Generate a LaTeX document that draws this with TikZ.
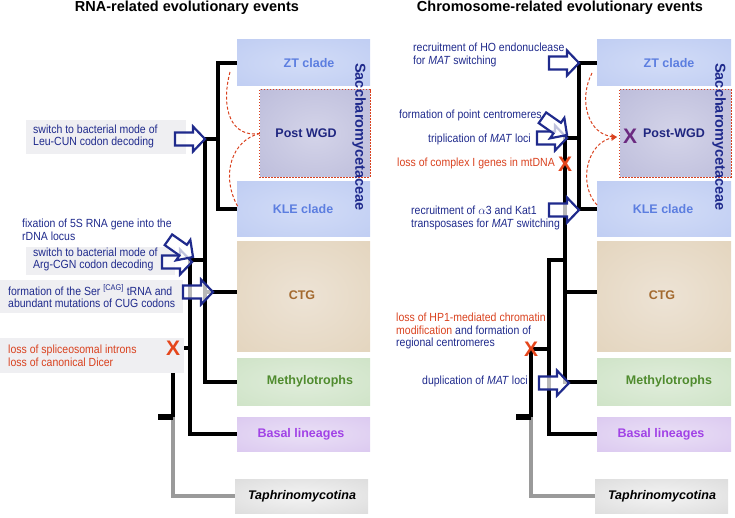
\documentclass[tikz,border=0pt]{standalone}
\usepackage{fontspec}
\setmainfont{Liberation Sans}
\newfontfamily\evfont[FakeStretch=0.89]{Liberation Sans}
\usetikzlibrary{arrows.meta}
\definecolor{navy}{HTML}{1F2A8C}
\definecolor{evred}{HTML}{D9411E}
\definecolor{xred}{HTML}{E5461C}
\definecolor{xpurple}{HTML}{6B2A80}
\definecolor{ztc}{HTML}{5C7EE0}
\definecolor{pwc}{HTML}{1F2680}
\definecolor{ctgc}{HTML}{A3692E}
\definecolor{metc}{HTML}{4F8B2E}
\definecolor{basc}{HTML}{A142E6}
\definecolor{ztin}{HTML}{D2DCF7}
\definecolor{ztout}{HTML}{AEBFEE}
\definecolor{pwin}{HTML}{D4D4E9}
\definecolor{pwout}{HTML}{A6A6CD}
\definecolor{ctgin}{HTML}{EDE3D5}
\definecolor{ctgout}{HTML}{DAC7A8}
\definecolor{metin}{HTML}{E0EDDB}
\definecolor{metout}{HTML}{BEDAB4}
\definecolor{basin}{HTML}{EAE0F6}
\definecolor{basout}{HTML}{CDB3EA}
\definecolor{tapin}{HTML}{F4F4F4}
\definecolor{tapout}{HTML}{C6C6C6}
\definecolor{evtgrey}{HTML}{EFEFF2}
\definecolor{greyline}{HTML}{9A9A9A}
\pgfdeclareradialshading{ztsh}{\pgfpoint{0bp}{0bp}}{color(0bp)=(ztin); color(72bp)=(ztout)}
\pgfdeclareradialshading{pwsh}{\pgfpoint{0bp}{0bp}}{color(0bp)=(pwin); color(72bp)=(pwout)}
\pgfdeclareradialshading{ctgsh}{\pgfpoint{0bp}{0bp}}{color(0bp)=(ctgin); color(72bp)=(ctgout)}
\pgfdeclareradialshading{metsh}{\pgfpoint{0bp}{0bp}}{color(0bp)=(metin); color(72bp)=(metout)}
\pgfdeclareradialshading{bassh}{\pgfpoint{0bp}{0bp}}{color(0bp)=(basin); color(72bp)=(basout)}
\pgfdeclareradialshading{tapsh}{\pgfpoint{0bp}{0bp}}{color(0bp)=(tapin); color(72bp)=(tapout)}
\begin{document}
\begin{tikzpicture}[x=1pt,y=-1pt,
  box/.style={inner sep=0pt, minimum width=133pt, shade},
  lbl/.style={font=\fontsize{12.5}{14}\selectfont\bfseries, inner sep=0pt},
  title/.style={font=\fontsize{14.5}{16}\selectfont\bfseries, inner sep=0pt, anchor=base},
  sacch/.style={font=\fontsize{14.5}{16}\selectfont\bfseries, text=navy, rotate=-90, inner sep=0pt},
  evt/.style={font=\evfont\fontsize{11.8}{12.6}\selectfont, text=navy, align=left, inner sep=0pt, anchor=west},
  evtbg/.style={fill=evtgrey, inner sep=0pt, anchor=west},
  tree/.style={line width=4pt, black},
  stubline/.style={line width=6pt, black},
  greytree/.style={line width=4pt, greyline},
  xm/.style={font=\fontsize{21}{21}\selectfont\bfseries, inner sep=0pt},
  reddash/.style={draw=evred, line width=1pt, dash pattern=on 3pt off 2pt},
  arrowline/.style={draw=navy, line width=2.2pt, fill=white, fill opacity=0.72, line join=miter},
  barrow/.pic={\path[arrowline] (0,0) -- (-12,-12.5) -- (-12,-6.5) -- (-30,-6.5) -- (-30,6.5) -- (-12,6.5) -- (-12,12.5) -- cycle;}
]
\useasboundingbox (0,0) rectangle (735,518);

% titles
\node[title] (Ltitle) at (187,12) {RNA-related evolutionary events};
\node[title] (Rtitle) at (560,12) {Chromosome-related evolutionary events};

% ---------- left panel boxes ----------
\node[box, minimum height=46pt, shading=ztsh] (Lzt) at (303.5,63) {};
\node[box, minimum width=110pt, minimum height=87pt, shading=pwsh] (Lpw) at (315,133.5) {};
\draw[draw=evred, line width=0.8pt, dash pattern=on 1.5pt off 1.5pt] (Lpw.north west) rectangle (Lpw.south east);
\node[box, minimum height=55pt, shading=ztsh] (Lkle) at (303.5,209.5) {};
\node[box, minimum height=109pt, shading=ctgsh] (Lctg) at (303.5,296.5) {};
\node[box, minimum height=47pt, shading=metsh] (Lmet) at (303.5,381.5) {};
\node[box, minimum height=34pt, shading=bassh] (Lbas) at (303.5,434) {};
\node[box, minimum height=34pt, shading=tapsh] (Ltap) at (301.5,496) {};

\node[lbl, text=ztc] (Lztl) at (309,63) {ZT clade};
\node[lbl, text=pwc] (Lpwl) at (306,133) {Post WGD};
\node[lbl, text=ztc] (Lklel) at (303,209) {KLE clade};
\node[lbl, text=ctgc] (Lctgl) at (302,295) {CTG};
\node[lbl, text=metc] (Lmetl) at (310,381) {Methylotrophs};
\node[lbl, text=basc] (Lbasl) at (301,434) {Basal lineages};
\node[lbl, text=black, font=\fontsize{12.5}{14}\selectfont\bfseries\itshape] (Ltapl) at (302,496) {Taphrinomycotina};
\node[sacch] (Lsacch) at (359,137) {Saccharomycetaceae};

% ---------- right panel boxes ----------
\node[box, minimum width=134pt, minimum height=46pt, shading=ztsh] (Rzt) at (664,63) {};
\node[box, minimum width=111pt, minimum height=87pt, shading=pwsh] (Rpw) at (675.5,133.5) {};
\draw[draw=evred, line width=0.8pt, dash pattern=on 1.5pt off 1.5pt] (Rpw.north west) rectangle (Rpw.south east);
\node[box, minimum width=134pt, minimum height=55pt, shading=ztsh] (Rkle) at (664,209.5) {};
\node[box, minimum width=134pt, minimum height=109pt, shading=ctgsh] (Rctg) at (664,296.5) {};
\node[box, minimum width=134pt, minimum height=47pt, shading=metsh] (Rmet) at (664,381.5) {};
\node[box, minimum width=134pt, minimum height=34pt, shading=bassh] (Rbas) at (664,434) {};
\node[box, minimum width=133pt, minimum height=34pt, shading=tapsh] (Rtap) at (661.5,496) {};

\node[lbl, text=ztc] (Rztl) at (669,63) {ZT clade};
\node[lbl, text=pwc] (Rpwl) at (674,133) {Post-WGD};
\node[lbl, text=ztc] (Rklel) at (663,209) {KLE clade};
\node[lbl, text=ctgc] (Rctgl) at (662,295) {CTG};
\node[lbl, text=metc] (Rmetl) at (669,381) {Methylotrophs};
\node[lbl, text=basc] (Rbasl) at (661,434) {Basal lineages};
\node[lbl, text=black, font=\fontsize{12.5}{14}\selectfont\bfseries\itshape] (Rtapl) at (662,496) {Taphrinomycotina};
\node[sacch] (Rsacch) at (719,137) {Saccharomycetaceae};

% ---------- left tree ----------
\coordinate (Lsac) at (218,139);
\coordinate (Lb) at (205,139);
\coordinate (Lctgj) at (205,292);
\coordinate (Lc) at (190,260);
\coordinate (Ld) at (173,348);
\coordinate (Lroot) at (173,417);
\draw[greytree] (Lroot) |- (Ltap.west);
\draw[tree] (Lzt.west) -| (Lsac) |- (Lkle.west);
\draw[tree] (Lsac) -- (Lb) |- (Lmet.west);
\draw[tree] (Lctgj) -- (Lctg.west |- Lctgj);
\draw[tree] (Lb |- Lc) -- (Lc) |- (Lbas.west);
\draw[tree] (Lc |- Ld) -- (Ld) -- (Lroot);
\draw[stubline] (Lroot) -- ++(-15,0) coordinate (Lstub);

% ---------- right tree ----------
\coordinate (Rsac) at (579,138);
\coordinate (Rb) at (565,138);
\coordinate (Rctgj) at (565,292);
\coordinate (Rc) at (549,260);
\coordinate (Rd) at (531,349);
\coordinate (Rroot) at (531,417);
\draw[greytree] (Rroot) |- (Rtap.west);
\draw[tree] (Rzt.west) -| (Rsac) |- (Rkle.west);
\draw[tree] (Rsac) -- (Rb) |- (Rmet.west);
\draw[tree] (Rctgj) -- (Rctg.west |- Rctgj);
\draw[tree] (Rb |- Rc) -- (Rc) |- (Rbas.west);
\draw[tree] (Rc |- Rd) -- (Rd) -- (Rroot);
\draw[stubline] (Rroot) -- ++(-15,0) coordinate (Rstub);

% ---------- red dashed WGD curves ----------
\coordinate (Lwgd) at (Lpw.west);
\draw[reddash] (230,72) .. controls (220,110) and (232,138) .. (Lwgd);
\draw[reddash] (Lwgd) .. controls (232,140) and (220,175) .. (238,207);
\coordinate (Rwgd) at (617,137);
\draw[reddash, -{Stealth[length=6pt,width=6pt]}] (592,73) .. controls (578,100) and (588,135) .. (Rwgd);
\draw[reddash, -{Stealth[length=6pt,width=6pt]}] (597,205) .. controls (578,185) and (586,142) .. (Rwgd);

% ---------- left events ----------
\node[evtbg, minimum width=160pt, minimum height=34pt] (Lleubg) at (26,137) {};
\node[evt] (Lleu) at (33,136.5) {switch to bacterial mode of\\Leu-CUN codon decoding};
\node[evt] (L5s) at (22,230) {fixation of 5S RNA gene into the\\rDNA locus};
\node[evtbg, minimum width=149pt, minimum height=28pt] (Largbg) at (26,261) {};
\node[evt] (Larg) at (33,259.5) {switch to bacterial mode of\\Arg-CGN codon decoding};
\node[evtbg, minimum width=183pt, minimum height=33pt] (Lserbg) at (0,296.5) {};
\node[evt] (Lser) at (8,296.5) {formation of the Ser \textsuperscript{[CAG]} tRNA and\\abundant mutations of CUG codons};
\node[evtbg, minimum width=184pt, minimum height=35pt] (Lsplbg) at (0,355.5) {};
\node[evt, text=evred] (Lspl) at (8,355.5) {loss of spliceosomal introns\\loss of canonical Dicer};

\coordinate (Lleutip) at (205,139);
\coordinate (L5stip) at (193,257);
\coordinate (Largtip) at (192,262);
\coordinate (Lsertip) at (213,292);
\pic at (Lleutip) {barrow};
\pic at (Largtip) {barrow};
\pic[rotate=-35] at (L5stip) {barrow};
\pic at (Lsertip) {barrow};
\node[xm, text=xred] (Lx) at (Ld) {X};

% ---------- right events ----------
\node[evt] (Rho) at (413,55) {recruitment of HO endonuclease\\for \textit{MAT} switching};
\node[evt] (Rpc) at (399,115) {formation of point centromeres};
\node[evt] (Rtri) at (428,139) {triplication of \textit{MAT} loci};
\node[evt, text=evred] (Rcx) at (397,163) {loss of complex I genes in mtDNA};
\node[evt] (Ra3) at (411,218) {recruitment of $\alpha$3 and Kat1\\transposases for \textit{MAT} switching};
\node[evt] (Rhp) at (396,331) {\textcolor{evred}{loss of HP1-mediated chromatin}\\\textcolor{evred}{modification} and formation of\\regional centromeres};
\node[evt] (Rdup) at (422,381) {duplication of \textit{MAT} loci};

\coordinate (Rhotip) at (579,63);
\coordinate (Rpctip) at (567,135);
\coordinate (Rtritip) at (567,138);
\coordinate (Ra3tip) at (579,210);
\coordinate (Rduptip) at (569,383);
\pic at (Rhotip) {barrow};
\pic at (Rtritip) {barrow};
\pic[rotate=-35] at (Rpctip) {barrow};
\pic at (Ra3tip) {barrow};
\pic at (Rduptip) {barrow};
\node[xm, text=xred] (Rx1) at (565,164) {X};
\node[xm, text=xred] (Rx2) at (Rd) {X};
\node[xm, text=xpurple] (Rx3) at (630,136) {X};
\end{tikzpicture}
\end{document}
